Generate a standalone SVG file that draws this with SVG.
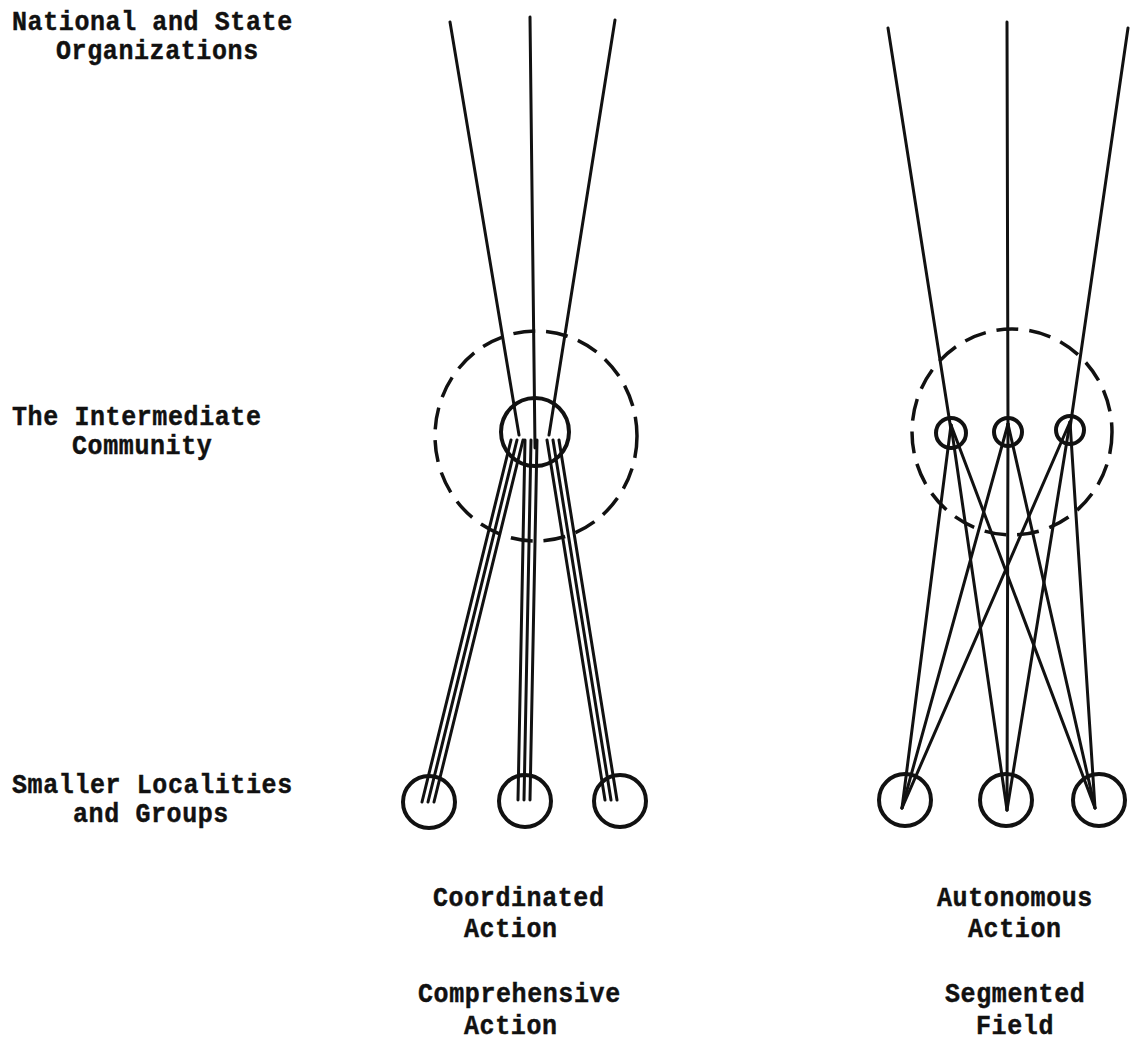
<svg xmlns="http://www.w3.org/2000/svg" width="1140" height="1045" viewBox="0 0 1140 1045">
<style>
.t{font-family:"Liberation Mono","DejaVu Sans Mono",monospace;font-weight:bold;font-size:25px;letter-spacing:0.6px;fill:#111;stroke:#111;stroke-width:0.4}
.ln{stroke:#111;stroke-width:3;fill:none;stroke-linecap:round}
.c{stroke:#111;stroke-width:4;fill:none}
.d{stroke:#111;stroke-width:3.5;fill:none;stroke-dasharray:22 11}
</style>
<rect width="1140" height="1045" fill="#fff"/>
<g id="labels">
<text class="t" transform="translate(12,30) scale(1,1.12)">National and State</text>
<text class="t" transform="translate(56,59) scale(1,1.12)">Organizations</text>
<text class="t" transform="translate(12,425) scale(1,1.12)">The Intermediate</text>
<text class="t" transform="translate(72,454) scale(1,1.12)">Community</text>
<text class="t" transform="translate(12,793) scale(1,1.12)">Smaller Localities</text>
<text class="t" transform="translate(73,822) scale(1,1.12)">and Groups</text>
<text class="t" transform="translate(433,906) scale(1,1.12)">Coordinated</text>
<text class="t" transform="translate(464,937) scale(1,1.12)">Action</text>
<text class="t" transform="translate(418,1002) scale(1,1.12)">Comprehensive</text>
<text class="t" transform="translate(464,1034) scale(1,1.12)">Action</text>
<text class="t" transform="translate(937,906) scale(1,1.12)">Autonomous</text>
<text class="t" transform="translate(968,937) scale(1,1.12)">Action</text>
<text class="t" transform="translate(945,1002) scale(1,1.12)">Segmented</text>
<text class="t" transform="translate(976,1034) scale(1,1.12)">Field</text>
</g>
<g id="connectors">
<line class="ln" x1="450" y1="22" x2="519" y2="435"/>
<line class="ln" x1="530" y1="17" x2="535" y2="448"/>
<line class="ln" x1="615" y1="20" x2="549" y2="435"/>
<line class="ln" x1="511" y1="440" x2="422" y2="802"/>
<line class="ln" x1="517" y1="440" x2="428" y2="802"/>
<line class="ln" x1="523" y1="440" x2="434" y2="802"/>
<line class="ln" x1="525" y1="440" x2="518" y2="800"/>
<line class="ln" x1="531" y1="440" x2="524" y2="800"/>
<line class="ln" x1="537" y1="440" x2="530" y2="800"/>
<line class="ln" x1="547" y1="440" x2="605" y2="800"/>
<line class="ln" x1="553" y1="440" x2="611" y2="800"/>
<line class="ln" x1="559" y1="440" x2="617" y2="800"/>
<line class="ln" x1="888" y1="28" x2="951" y2="430"/>
<line class="ln" x1="1007" y1="22" x2="1008" y2="430"/>
<line class="ln" x1="1128" y1="28" x2="1070" y2="428"/>
<line class="ln" x1="951" y1="425" x2="902" y2="808"/>
<line class="ln" x1="951" y1="425" x2="1007" y2="810"/>
<line class="ln" x1="951" y1="425" x2="1095" y2="808"/>
<line class="ln" x1="1008" y1="424" x2="902" y2="808"/>
<line class="ln" x1="1008" y1="424" x2="1007" y2="810"/>
<line class="ln" x1="1008" y1="424" x2="1095" y2="808"/>
<line class="ln" x1="1070" y1="422" x2="902" y2="808"/>
<line class="ln" x1="1070" y1="422" x2="1007" y2="810"/>
<line class="ln" x1="1070" y1="422" x2="1095" y2="808"/>
</g>
<g id="left-community-boundary"><ellipse class="d" cx="536" cy="436" rx="101" ry="105"/></g>
<g id="left-community"><circle class="c" cx="535" cy="432" r="34"/></g>
<g id="left-local-1"><circle class="c" cx="429" cy="802" r="26"/></g>
<g id="left-local-2"><circle class="c" cx="525" cy="801" r="26"/></g>
<g id="left-local-3"><circle class="c" cx="620" cy="801" r="26"/></g>
<g id="right-community-boundary"><ellipse class="d" cx="1012" cy="432" rx="100" ry="103"/></g>
<g id="right-org-1"><circle class="c" cx="951" cy="433" r="15"/></g>
<g id="right-org-2"><circle class="c" cx="1008" cy="432" r="14"/></g>
<g id="right-org-3"><circle class="c" cx="1070" cy="430" r="14"/></g>
<g id="right-local-1"><circle class="c" cx="905" cy="800" r="26"/></g>
<g id="right-local-2"><circle class="c" cx="1006" cy="800" r="26"/></g>
<g id="right-local-3"><circle class="c" cx="1099" cy="800" r="26"/></g>
</svg>
